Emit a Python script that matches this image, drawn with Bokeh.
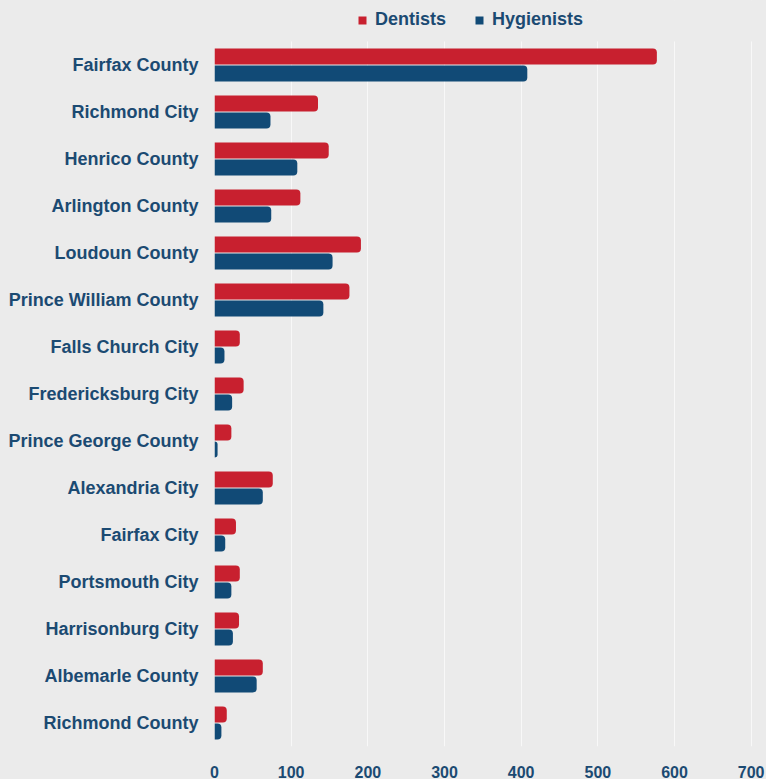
from bokeh.plotting import figure
from bokeh.models import (ColumnDataSource, Range1d, Legend, LegendItem, FixedTicker,
                          BoxAnnotation)
from bokeh.transform import dodge
from bokeh.embed import file_html
from bokeh.resources import INLINE

categories = ["Fairfax County", "Richmond City", "Henrico County", "Arlington County",
              "Loudoun County", "Prince William County", "Falls Church City",
              "Fredericksburg City", "Prince George County", "Alexandria City",
              "Fairfax City", "Portsmouth City", "Harrisonburg City",
              "Albemarle County", "Richmond County"]
dentists = [577, 135, 149, 112, 191, 176, 33, 38, 22, 76, 28, 33, 32, 63, 16]
hygienists = [408, 73, 108, 74, 154, 142, 13, 23, 4, 63, 14, 22, 24, 55, 9]
x_ticks = [0, 100, 200, 300, 400, 500, 600, 700]

RED = "#c8202f"
BLUE = "#114a76"
TEXT = "#1b4a72"
BG = "#ebebeb"

n = len(categories)
pos = [n - 1 - i for i in range(n)]  # first category at the top

src = ColumnDataSource(dict(pos=pos, dentists=dentists, hygienists=hygienists))

p = figure(frame_width=552, frame_height=746, output_backend="svg", toolbar_location=None,
           y_range=Range1d(-0.5, n - 0.5 + 41 / 47), x_range=Range1d(0, 720))
p.min_border_left = 214
p.min_border_right = 0
p.min_border_top = 0
p.min_border_bottom = 33
p.background_fill_color = BG
p.border_fill_color = BG
p.outline_line_color = None

r1 = p.hbar(y=dodge('pos', 0.18), left=0, right='dentists', height=0.34,
            source=src, fill_color=RED, line_color=None, border_radius=(0, 4, 4, 0))
r2 = p.hbar(y=dodge('pos', -0.18), left=0, right='hygienists', height=0.34,
            source=src, fill_color=BLUE, line_color=None, border_radius=(0, 4, 4, 0))

p.ygrid.grid_line_color = None
p.xgrid.grid_line_color = "#f8f8f8"
p.xgrid.grid_line_width = 1
p.xaxis.ticker = FixedTicker(ticks=x_ticks)
p.yaxis.ticker = FixedTicker(ticks=pos)
p.yaxis.major_label_overrides = {pv: c for pv, c in zip(pos, categories)}

# legend strip above the bars: hide the grid there
p.add_layout(BoxAnnotation(bottom=n - 0.5, fill_color=BG, fill_alpha=1, line_color=None))

for ax in (p.xaxis[0], p.yaxis[0]):
    ax.axis_line_color = None
    ax.major_tick_line_color = None
    ax.minor_tick_line_color = None
    ax.major_label_text_color = TEXT
    ax.major_label_text_font = "Liberation Sans"
    ax.major_label_text_font_style = "bold"

p.yaxis.major_label_text_font_size = "18px"
p.yaxis.major_label_standoff = 10
p.xaxis.major_label_text_font_size = "16px"
p.xaxis.major_label_standoff = 13

legend = Legend(items=[LegendItem(label="Dentists", renderers=[r1]),
                       LegendItem(label="Hygienists", renderers=[r2])],
                orientation="horizontal", location=(143, 716),
                background_fill_alpha=0, border_line_color=None,
                label_text_font="Liberation Sans", label_text_font_style="bold",
                label_text_font_size="18px", label_text_color=TEXT,
                glyph_width=10, glyph_height=10, spacing=28, label_standoff=8,
                padding=4, margin=0)
p.add_layout(legend, "center")

html = file_html(p, INLINE)
html = html.replace("<head>", "<head><style>html, body { background: #ebebeb; }</style>", 1)
open("out.html", "w").write(html)
